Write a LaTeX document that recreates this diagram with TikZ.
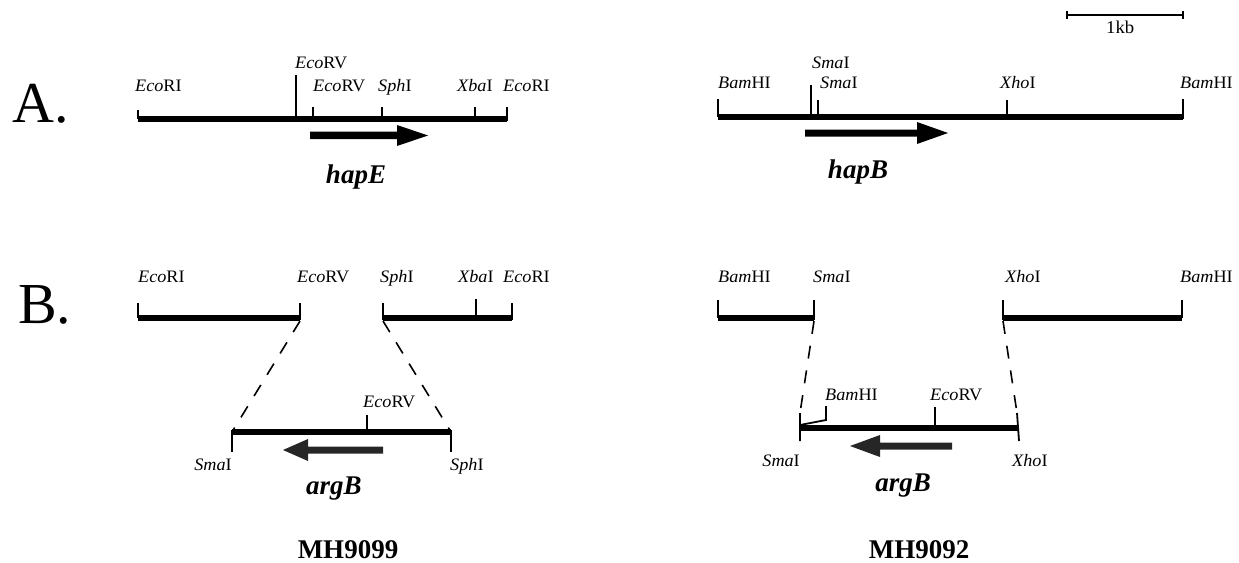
\documentclass[tikz,border=0pt]{standalone}
\usepackage{fontspec}
\setmainfont{Liberation Serif}
\newfontfamily\labfont{Liberation Serif}[FakeStretch=1.04]

\tikzset{
  dnaline/.style={line width=5.2pt, line cap=butt},
  sitetick/.style={line width=1.8pt},
  joinline/.style={line width=1.6pt, dash pattern=on 13pt off 12pt},
  site/.style={font=\labfont\fontsize{17.5}{19}\selectfont, inner sep=0pt},
  gene/.style={font=\bfseries\itshape\fontsize{27}{29}\selectfont, inner sep=0pt},
  strain/.style={font=\bfseries\fontsize{27}{29}\selectfont, inner sep=0pt},
  panel/.style={font=\fontsize{58}{60}\selectfont, inner sep=0pt, anchor=base west},
  orfarrow/.style={fill=black, draw=none},
  markerarrow/.style={fill=black!85, draw=none},
}

\begin{document}
\begin{tikzpicture}[x=1pt, y=-1pt]
\useasboundingbox (0,0) rectangle (1239,562);

% panel letters
\node[panel] (pA) at (12,122) {A.};
\node[panel] (pB) at (18,323) {B.};

% scale bar
\coordinate (sb1) at (1067,15);
\coordinate (sb2) at (1183,15);
\draw[line width=1.6pt] (sb1) -- (sb2);
\draw[line width=2pt] (1067,11) -- (1067,19) (1183,11) -- (1183,19);
\node[site, anchor=base west, font=\labfont\fontsize{18}{20}\selectfont] (kb) at (1106,33) {1kb};

% ---------------- A: hapE locus ----------------
\coordinate (aE1) at (138,119);
\coordinate (aE2) at (507,119);
\draw[dnaline] (aE1) -- (aE2);
\draw[sitetick] (138,110) -- (138,119)
                (296,75) -- (296,119)
                (313,107) -- (313,119)
                (382,107) -- (382,119)
                (475,107) -- (475,119)
                (507,107) -- (507,121);
\node[site, anchor=base west] (aE_r1) at (135,91) {\textit{Eco}RI};
\node[site, anchor=base west] (aE_v1) at (295,68) {\textit{Eco}RV};
\node[site, anchor=base west] (aE_v2) at (313,91) {\textit{Eco}RV};
\node[site, anchor=base west] (aE_s) at (378,91) {\textit{Sph}I};
\node[site, anchor=base west] (aE_x) at (457,91) {\textit{Xba}I};
\node[site, anchor=base west] (aE_r2) at (503,91) {\textit{Eco}RI};
% hapE open reading frame
\fill[orfarrow] (310,131.5) -- (397,131.5) -- (397,125) -- (428,135.5)
                -- (397,146) -- (397,139) -- (310,139) -- cycle;
\node[gene, anchor=base] (hapE) at (356,183) {hapE};

% ---------------- A: hapB locus ----------------
\coordinate (aB1) at (718,117);
\coordinate (aB2) at (1183,117);
\draw[dnaline] (aB1) -- (aB2);
\draw[sitetick] (718,99) -- (718,117)
                (811,85) -- (811,117)
                (818,100) -- (818,117)
                (1007,100) -- (1007,117)
                (1183,99) -- (1183,119);
\node[site, anchor=base west] (aB_b1) at (718,88) {\textit{Bam}HI};
\node[site, anchor=base west] (aB_m1) at (812,68) {\textit{Sma}I};
\node[site, anchor=base west] (aB_m2) at (820,88) {\textit{Sma}I};
\node[site, anchor=base west] (aB_x) at (1000,88) {\textit{Xho}I};
\node[site, anchor=base west] (aB_b2) at (1180,88) {\textit{Bam}HI};
% hapB open reading frame
\fill[orfarrow] (805,129.5) -- (917,129.5) -- (917,122) -- (948,133)
                -- (917,144) -- (917,136.5) -- (805,136.5) -- cycle;
\node[gene, anchor=base] (hapB) at (858,178) {hapB};

% ---------------- B: hapE disruption (MH9099) ----------------
\coordinate (bEl1) at (138,318);
\coordinate (bEl2) at (300,318);
\coordinate (bEr1) at (383,318);
\coordinate (bEr2) at (512,318);
\draw[dnaline] (bEl1) -- (bEl2);
\draw[dnaline] (bEr1) -- (bEr2);
\draw[sitetick] (138,303) -- (138,318)
                (300,303) -- (300,320)
                (383,303) -- (383,320)
                (476,299) -- (476,318)
                (512,303) -- (512,320);
\node[site, anchor=base west] (bE_r1) at (138,282) {\textit{Eco}RI};
\node[site, anchor=base west] (bE_v) at (297,282) {\textit{Eco}RV};
\node[site, anchor=base west] (bE_s) at (380,282) {\textit{Sph}I};
\node[site, anchor=base west] (bE_x) at (458,282) {\textit{Xba}I};
\node[site, anchor=base west] (bE_r2) at (503,282) {\textit{Eco}RI};
% argB insert
\coordinate (iE1) at (232,432);
\coordinate (iE2) at (451,432);
\draw[dnaline] (iE1) -- (iE2);
\draw[sitetick] (232,430) -- (232,452)
                (451,430) -- (451,452)
                (367,415) -- (367,432);
\coordinate (jEa) at (300,321);
\coordinate (jEb) at (383,321);
\draw[joinline] (jEa) -- (iE1);
\draw[joinline] (jEb) -- (iE2);
\node[site, anchor=base west] (iE_v) at (363,407) {\textit{Eco}RV};
\node[site, anchor=base east] (iE_m) at (232,470) {\textit{Sma}I};
\node[site, anchor=base west] (iE_s) at (450,470) {\textit{Sph}I};
\fill[markerarrow] (383,446.5) -- (308,446.5) -- (308,439) -- (283,450)
                   -- (308,461) -- (308,453.5) -- (383,453.5) -- cycle;
\node[gene, anchor=base] (argB1) at (334,494) {argB};
\node[strain, anchor=base] (s1) at (348,558) {MH9099};

% ---------------- B: hapB disruption (MH9092) ----------------
\coordinate (bBl1) at (718,318);
\coordinate (bBl2) at (814,318);
\coordinate (bBr1) at (1003,318);
\coordinate (bBr2) at (1182,318);
\draw[dnaline] (bBl1) -- (bBl2);
\draw[dnaline] (bBr1) -- (bBr2);
\draw[sitetick] (718,300) -- (718,318)
                (814,300) -- (814,320)
                (1003,300) -- (1003,320)
                (1182,300) -- (1182,318);
\node[site, anchor=base west] (bB_b1) at (718,282) {\textit{Bam}HI};
\node[site, anchor=base west] (bB_m) at (813,282) {\textit{Sma}I};
\node[site, anchor=base west] (bB_x) at (1005,282) {\textit{Xho}I};
\node[site, anchor=base west] (bB_b2) at (1180,282) {\textit{Bam}HI};
% argB insert
\coordinate (iB1) at (800,428);
\coordinate (iB2) at (1018,428);
\draw[dnaline] (iB1) -- (iB2);
\coordinate (iBt1) at (800,413);
\coordinate (iBt2) at (1017,413);
\draw[sitetick] (iBt1) -- (800,441)
                (iBt2) -- (1019,441)
                (935,407) -- (935,428);
\draw[sitetick, line join=miter] (800,425) -- (826,420) -- (826,406);
\coordinate (jBa) at (814,321);
\coordinate (jBb) at (1003,321);
\draw[joinline] (jBa) -- (iBt1);
\draw[joinline] (jBb) -- (iBt2);
\node[site, anchor=base west] (iB_b) at (825,400) {\textit{Bam}HI};
\node[site, anchor=base west] (iB_v) at (930,400) {\textit{Eco}RV};
\node[site, anchor=base east] (iB_m) at (800,466) {\textit{Sma}I};
\node[site, anchor=base west] (iB_x) at (1012,466) {\textit{Xho}I};
\fill[markerarrow] (952,442.5) -- (880,442.5) -- (880,435) -- (850,446)
                   -- (880,457) -- (880,449.5) -- (952,449.5) -- cycle;
\node[gene, anchor=base] (argB2) at (903,491) {argB};
\node[strain, anchor=base] (s2) at (919,558) {MH9092};
\end{tikzpicture}
\end{document}
